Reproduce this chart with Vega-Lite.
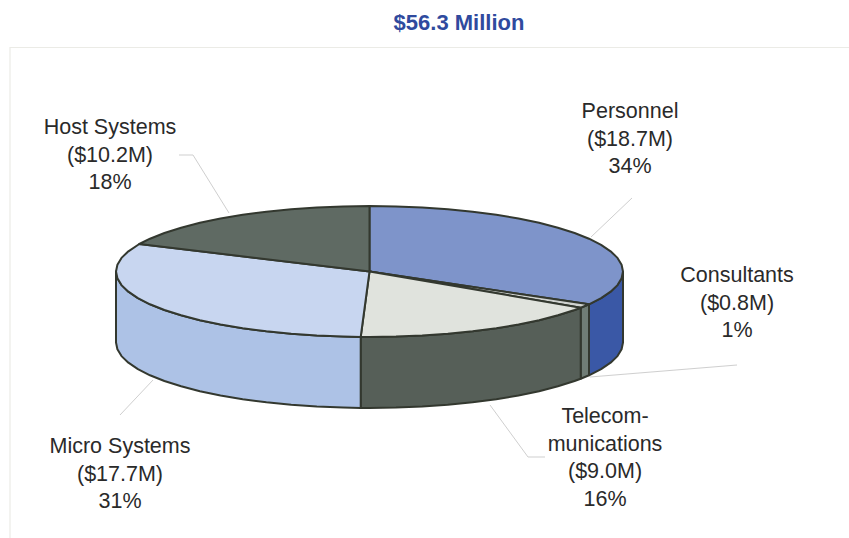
{
  "$schema": "https://vega.github.io/schema/vega-lite/v6.json",
  "width": 849,
  "height": 538,
  "padding": 0,
  "autosize": {"type": "none"},
  "background": "#ffffff",
  "config": {"view": {"stroke": null}},
  "datasets": {
    "faces": [
      {"part":"Personnel side","step":0,"x":623.0,"y":271.5},{"part":"Personnel side","step":1,"x":621.6,"y":278.3},{"part":"Personnel side","step":2,"x":617.5,"y":285.1},{"part":"Personnel side","step":3,"x":610.6,"y":291.7},{"part":"Personnel side","step":4,"x":601.1,"y":298.1},{"part":"Personnel side","step":5,"x":589.0,"y":304.3},{"part":"Personnel side","step":6,"x":589.0,"y":375.3},{"part":"Personnel side","step":7,"x":601.1,"y":369.1},{"part":"Personnel side","step":8,"x":610.6,"y":362.7},{"part":"Personnel side","step":9,"x":617.5,"y":356.1},{"part":"Personnel side","step":10,"x":621.6,"y":349.3},{"part":"Personnel side","step":11,"x":623.0,"y":342.5},{"part":"Personnel side","step":12,"x":623.0,"y":271.5},
      {"part":"Consultants side","step":0,"x":589.0,"y":304.3},{"part":"Consultants side","step":1,"x":580.7,"y":307.7},{"part":"Consultants side","step":2,"x":580.7,"y":378.7},{"part":"Consultants side","step":3,"x":589.0,"y":375.3},{"part":"Consultants side","step":4,"x":589.0,"y":304.3},
      {"part":"Telecom side","step":0,"x":580.7,"y":307.7},{"part":"Telecom side","step":1,"x":574.6,"y":310.0},{"part":"Telecom side","step":2,"x":557.9,"y":315.3},{"part":"Telecom side","step":3,"x":539.1,"y":320.2},{"part":"Telecom side","step":4,"x":518.5,"y":324.5},{"part":"Telecom side","step":5,"x":496.3,"y":328.2},{"part":"Telecom side","step":6,"x":472.6,"y":331.3},{"part":"Telecom side","step":7,"x":447.8,"y":333.8},{"part":"Telecom side","step":8,"x":422.2,"y":335.6},{"part":"Telecom side","step":9,"x":396.0,"y":336.6},{"part":"Telecom side","step":10,"x":369.5,"y":337.0},{"part":"Telecom side","step":11,"x":360.7,"y":337.0},{"part":"Telecom side","step":12,"x":360.7,"y":408.0},{"part":"Telecom side","step":13,"x":369.5,"y":408.0},{"part":"Telecom side","step":14,"x":396.0,"y":407.6},{"part":"Telecom side","step":15,"x":422.2,"y":406.6},{"part":"Telecom side","step":16,"x":447.8,"y":404.8},{"part":"Telecom side","step":17,"x":472.6,"y":402.3},{"part":"Telecom side","step":18,"x":496.3,"y":399.2},{"part":"Telecom side","step":19,"x":518.5,"y":395.5},{"part":"Telecom side","step":20,"x":539.1,"y":391.2},{"part":"Telecom side","step":21,"x":557.9,"y":386.3},{"part":"Telecom side","step":22,"x":574.6,"y":381.0},{"part":"Telecom side","step":23,"x":580.7,"y":378.7},{"part":"Telecom side","step":24,"x":580.7,"y":307.7},
      {"part":"Micro side","step":0,"x":360.7,"y":337.0},{"part":"Micro side","step":1,"x":343.0,"y":336.6},{"part":"Micro side","step":2,"x":316.8,"y":335.6},{"part":"Micro side","step":3,"x":291.2,"y":333.8},{"part":"Micro side","step":4,"x":266.4,"y":331.3},{"part":"Micro side","step":5,"x":242.7,"y":328.2},{"part":"Micro side","step":6,"x":220.5,"y":324.5},{"part":"Micro side","step":7,"x":199.9,"y":320.2},{"part":"Micro side","step":8,"x":181.1,"y":315.3},{"part":"Micro side","step":9,"x":164.4,"y":310.0},{"part":"Micro side","step":10,"x":150.0,"y":304.3},{"part":"Micro side","step":11,"x":137.9,"y":298.1},{"part":"Micro side","step":12,"x":128.4,"y":291.7},{"part":"Micro side","step":13,"x":121.5,"y":285.1},{"part":"Micro side","step":14,"x":117.4,"y":278.3},{"part":"Micro side","step":15,"x":116.0,"y":271.5},{"part":"Micro side","step":16,"x":116.0,"y":342.5},{"part":"Micro side","step":17,"x":117.4,"y":349.3},{"part":"Micro side","step":18,"x":121.5,"y":356.1},{"part":"Micro side","step":19,"x":128.4,"y":362.7},{"part":"Micro side","step":20,"x":137.9,"y":369.1},{"part":"Micro side","step":21,"x":150.0,"y":375.3},{"part":"Micro side","step":22,"x":164.4,"y":381.0},{"part":"Micro side","step":23,"x":181.1,"y":386.3},{"part":"Micro side","step":24,"x":199.9,"y":391.2},{"part":"Micro side","step":25,"x":220.5,"y":395.5},{"part":"Micro side","step":26,"x":242.7,"y":399.2},{"part":"Micro side","step":27,"x":266.4,"y":402.3},{"part":"Micro side","step":28,"x":291.2,"y":404.8},{"part":"Micro side","step":29,"x":316.8,"y":406.6},{"part":"Micro side","step":30,"x":343.0,"y":407.6},{"part":"Micro side","step":31,"x":360.7,"y":408.0},{"part":"Micro side","step":32,"x":360.7,"y":337.0},
      {"part":"Personnel top","step":0,"x":369.5,"y":271.5},{"part":"Personnel top","step":1,"x":369.5,"y":206.0},{"part":"Personnel top","step":2,"x":396.0,"y":206.4},{"part":"Personnel top","step":3,"x":422.2,"y":207.4},{"part":"Personnel top","step":4,"x":447.8,"y":209.2},{"part":"Personnel top","step":5,"x":472.6,"y":211.7},{"part":"Personnel top","step":6,"x":496.3,"y":214.8},{"part":"Personnel top","step":7,"x":518.5,"y":218.5},{"part":"Personnel top","step":8,"x":539.1,"y":222.8},{"part":"Personnel top","step":9,"x":557.9,"y":227.7},{"part":"Personnel top","step":10,"x":574.6,"y":233.0},{"part":"Personnel top","step":11,"x":589.0,"y":238.7},{"part":"Personnel top","step":12,"x":601.1,"y":244.9},{"part":"Personnel top","step":13,"x":610.6,"y":251.3},{"part":"Personnel top","step":14,"x":617.5,"y":257.9},{"part":"Personnel top","step":15,"x":621.6,"y":264.7},{"part":"Personnel top","step":16,"x":623.0,"y":271.5},{"part":"Personnel top","step":17,"x":621.6,"y":278.3},{"part":"Personnel top","step":18,"x":617.5,"y":285.1},{"part":"Personnel top","step":19,"x":610.6,"y":291.7},{"part":"Personnel top","step":20,"x":601.1,"y":298.1},{"part":"Personnel top","step":21,"x":589.0,"y":304.3},{"part":"Personnel top","step":22,"x":369.5,"y":271.5},
      {"part":"Consultants top","step":0,"x":369.5,"y":271.5},{"part":"Consultants top","step":1,"x":589.0,"y":304.3},{"part":"Consultants top","step":2,"x":580.7,"y":307.7},{"part":"Consultants top","step":3,"x":369.5,"y":271.5},
      {"part":"Telecom top","step":0,"x":369.5,"y":271.5},{"part":"Telecom top","step":1,"x":580.7,"y":307.7},{"part":"Telecom top","step":2,"x":574.6,"y":310.0},{"part":"Telecom top","step":3,"x":557.9,"y":315.3},{"part":"Telecom top","step":4,"x":539.1,"y":320.2},{"part":"Telecom top","step":5,"x":518.5,"y":324.5},{"part":"Telecom top","step":6,"x":496.3,"y":328.2},{"part":"Telecom top","step":7,"x":472.6,"y":331.3},{"part":"Telecom top","step":8,"x":447.8,"y":333.8},{"part":"Telecom top","step":9,"x":422.2,"y":335.6},{"part":"Telecom top","step":10,"x":396.0,"y":336.6},{"part":"Telecom top","step":11,"x":369.5,"y":337.0},{"part":"Telecom top","step":12,"x":360.7,"y":337.0},{"part":"Telecom top","step":13,"x":369.5,"y":271.5},
      {"part":"Micro top","step":0,"x":369.5,"y":271.5},{"part":"Micro top","step":1,"x":360.7,"y":337.0},{"part":"Micro top","step":2,"x":343.0,"y":336.6},{"part":"Micro top","step":3,"x":316.8,"y":335.6},{"part":"Micro top","step":4,"x":291.2,"y":333.8},{"part":"Micro top","step":5,"x":266.4,"y":331.3},{"part":"Micro top","step":6,"x":242.7,"y":328.2},{"part":"Micro top","step":7,"x":220.5,"y":324.5},{"part":"Micro top","step":8,"x":199.9,"y":320.2},{"part":"Micro top","step":9,"x":181.1,"y":315.3},{"part":"Micro top","step":10,"x":164.4,"y":310.0},{"part":"Micro top","step":11,"x":150.0,"y":304.3},{"part":"Micro top","step":12,"x":137.9,"y":298.1},{"part":"Micro top","step":13,"x":128.4,"y":291.7},{"part":"Micro top","step":14,"x":121.5,"y":285.1},{"part":"Micro top","step":15,"x":117.4,"y":278.3},{"part":"Micro top","step":16,"x":116.0,"y":271.5},{"part":"Micro top","step":17,"x":117.4,"y":264.7},{"part":"Micro top","step":18,"x":121.5,"y":257.9},{"part":"Micro top","step":19,"x":128.4,"y":251.3},{"part":"Micro top","step":20,"x":139.3,"y":244.0},{"part":"Micro top","step":21,"x":369.5,"y":271.5},
      {"part":"Host top","step":0,"x":369.5,"y":271.5},{"part":"Host top","step":1,"x":139.3,"y":244.0},{"part":"Host top","step":2,"x":150.0,"y":238.7},{"part":"Host top","step":3,"x":164.4,"y":233.0},{"part":"Host top","step":4,"x":181.1,"y":227.7},{"part":"Host top","step":5,"x":199.9,"y":222.8},{"part":"Host top","step":6,"x":220.5,"y":218.5},{"part":"Host top","step":7,"x":242.7,"y":214.8},{"part":"Host top","step":8,"x":266.4,"y":211.7},{"part":"Host top","step":9,"x":291.2,"y":209.2},{"part":"Host top","step":10,"x":316.8,"y":207.4},{"part":"Host top","step":11,"x":343.0,"y":206.4},{"part":"Host top","step":12,"x":369.5,"y":206.0},{"part":"Host top","step":13,"x":369.5,"y":271.5}
    ],
    "leaders": [
      {"line":"Personnel","step":0,"x":591,"y":237},{"line":"Personnel","step":1,"x":632,"y":198},
      {"line":"Consultants","step":0,"x":590,"y":377},{"line":"Consultants","step":1,"x":737,"y":365},
      {"line":"Telecom","step":0,"x":490,"y":405},{"line":"Telecom","step":1,"x":528,"y":457},{"line":"Telecom","step":2,"x":545,"y":457},
      {"line":"Micro","step":0,"x":153,"y":380},{"line":"Micro","step":1,"x":120,"y":415},
      {"line":"Host","step":0,"x":229,"y":213},{"line":"Host","step":1,"x":193,"y":155},{"line":"Host","step":2,"x":179,"y":155}
    ],
    "frame": [
      {"line":"frame","step":0,"x":10,"y":538},{"line":"frame","step":1,"x":10,"y":47.5},{"line":"frame","step":2,"x":849,"y":47.5}
    ],
    "labels": [
      {"text":"Personnel\n($18.7M)\n34%","amount":18.7,"share":34,"x":630,"y":112},
      {"text":"Consultants\n($0.8M)\n1%","amount":0.8,"share":1,"x":737,"y":276},
      {"text":"Telecom-\nmunications\n($9.0M)\n16%","amount":9.0,"share":16,"x":605,"y":417},
      {"text":"Micro Systems\n($17.7M)\n31%","amount":17.7,"share":31,"x":120,"y":447},
      {"text":"Host Systems\n($10.2M)\n18%","amount":10.2,"share":18,"x":110,"y":128}
    ],
    "heading": [
      {"text":"$56.3 Million","x":459,"y":23}
    ]
  },
  "encoding": {
    "x": {"field":"x","type":"quantitative","scale":{"domain":[0,849],"nice":false,"zero":false},"axis":null},
    "y": {"field":"y","type":"quantitative","scale":{"domain":[538,0],"nice":false,"zero":false},"axis":null}
  },
  "layer": [
    {
      "data": {"name":"frame"},
      "mark": {"type":"line","stroke":"#ebebe6","strokeWidth":1.2},
      "encoding": {"order":{"field":"step","type":"quantitative"}}
    },
    {
      "data": {"name":"leaders"},
      "mark": {"type":"line","stroke":"#cfcfcf","strokeWidth":1},
      "encoding": {"detail":{"field":"line"},"order":{"field":"step","type":"quantitative"}}
    },
    {
      "data": {"name":"faces"},
      "mark": {"type":"line","stroke":"#33382f","strokeWidth":2,"strokeJoin":"round","interpolate":"linear"},
      "encoding": {
        "fill": {
          "field":"part","type":"nominal","legend":null,
          "scale":{
            "domain":["Personnel top","Personnel side","Consultants top","Consultants side","Telecom top","Telecom side","Micro top","Micro side","Host top"],
            "range":["#7e94ca","#3a58a6","#d0d3d0","#707d76","#e0e3dd","#565f58","#c8d6f0","#adc2e6","#5f6a63"]
          }
        },
        "order":{"field":"step","type":"quantitative"}
      }
    },
    {
      "data": {"name":"labels"},
      "mark": {"type":"text","font":"Liberation Sans","fontSize":21.5,"lineHeight":27.5,"lineBreak":"\n","align":"center","baseline":"middle","color":"#2a2a2a"},
      "encoding": {"text":{"field":"text"}}
    },
    {
      "data": {"name":"heading"},
      "mark": {"type":"text","font":"Liberation Sans","fontSize":22,"fontWeight":"bold","align":"center","baseline":"middle","color":"#2f4a9e"},
      "encoding": {"text":{"field":"text"}}
    }
  ]
}
